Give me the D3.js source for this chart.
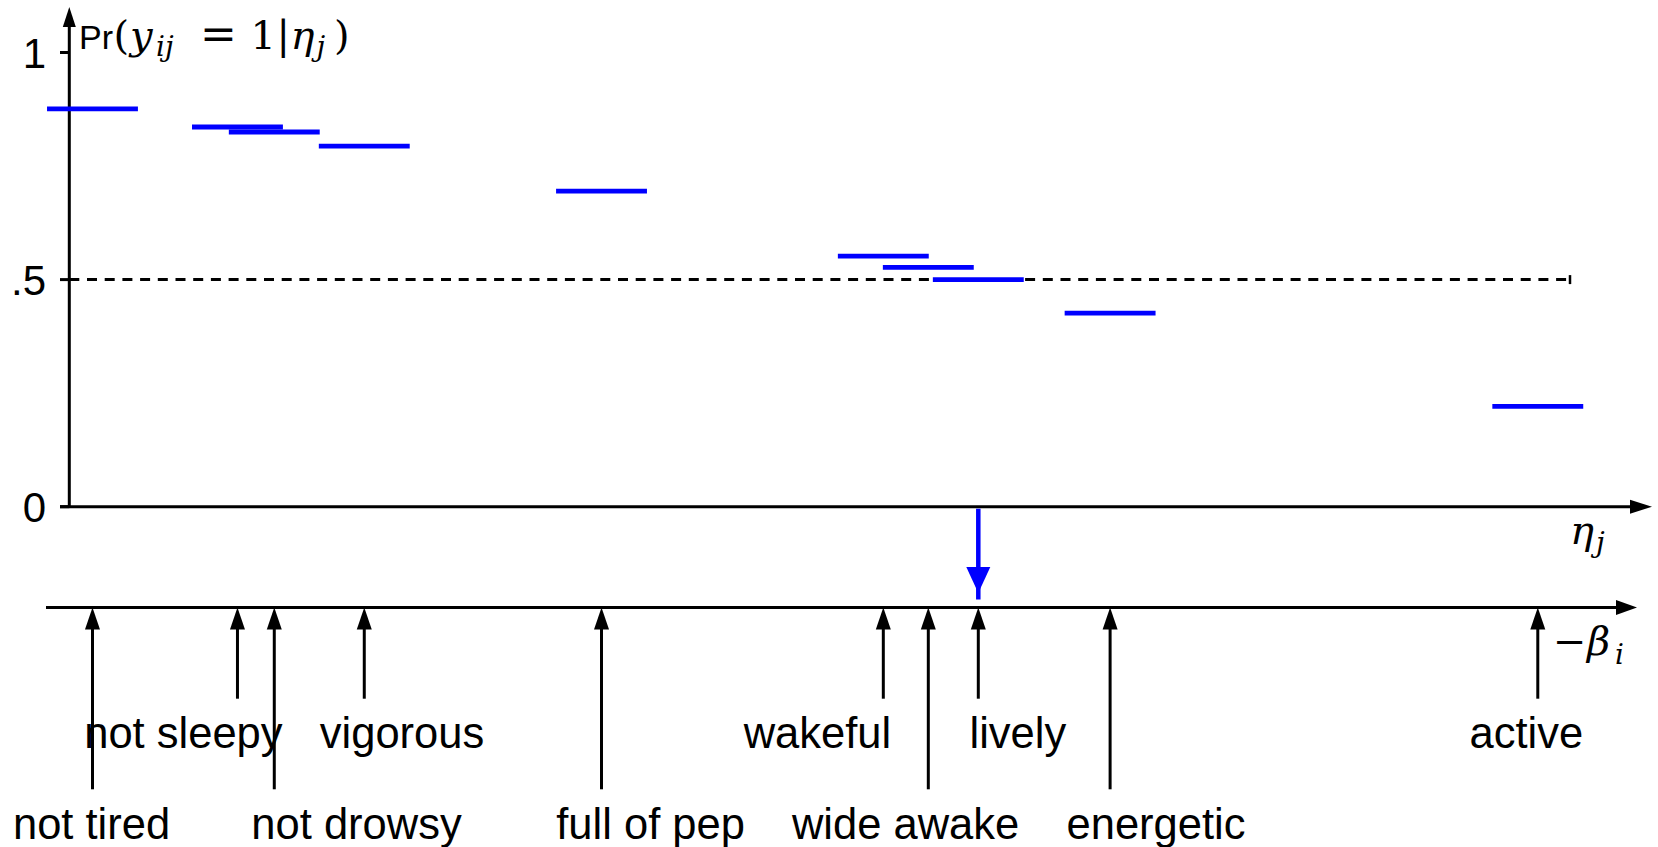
<!DOCTYPE html>
<html>
<head>
<meta charset="utf-8">
<script src="https://cdn.jsdelivr.net/npm/d3@7"></script>
<style>
  body { margin: 0; background: #fff; }
</style>
</head>
<body>
<div id="chart"></div>
<script>
// DATA
// items, their -beta_i location on the eta scale and Pr(y=1|eta_j) at eta_j
const items = ["not tired", "not sleepy", "not drowsy", "vigorous", "full of pep",
               "wakeful", "wide awake", "lively", "energetic", "active"];
const negBeta = [-1.949, -1.630, -1.549, -1.351, -0.829, -0.209, -0.110, 0.000, 0.290, 1.231];
const probs = [0.876, 0.836, 0.825, 0.794, 0.695, 0.5515, 0.527, 0.500, 0.426, 0.221];
// where each item's label sits (eta units) and on which row
const labelAt = [-1.951, -1.749, -1.368, -1.268, -0.721, -0.354, -0.160, 0.087, 0.391, 1.206];
const labelRow = [2, 1, 2, 1, 2, 1, 2, 1, 2, 1];
const etaJ = 0;
const yTicks = [0, 0.5, 1];
const yTickLabels = ["0", ".5", "1"];

// LAYOUT
const width = 1658, height = 847;
const blue = "#0000ff";
const sans = "'Liberation Sans', Arial, Helvetica, sans-serif";
const serif = "'DejaVu Serif', 'Liberation Serif', serif";

const x = d3.scaleLinear().domain([-2, 0]).range([69.3, 978.3]);
const y = d3.scaleLinear().domain([0, 1]).range([506.7, 52.5]);
const betaAxisY = 607.5;
const rowEnd = {1: 698.7, 2: 789.3};
const rowBase = {1: 748, 2: 839};

const svg = d3.select("#chart").append("svg")
  .attr("width", width)
  .attr("height", height);

svg.append("rect").attr("width", width).attr("height", height).attr("fill", "#fff");

// arrowhead helper: tip at (tx,ty), pointing along direction
function head(tx, ty, dir, len, half) {
  if (dir === "up") return `M${tx},${ty}L${tx - half},${ty + len}L${tx + half},${ty + len}Z`;
  if (dir === "down") return `M${tx},${ty}L${tx - half},${ty - len}L${tx + half},${ty - len}Z`;
  return `M${tx},${ty}L${tx - len},${ty - half}L${tx - len},${ty + half}Z`;
}

// Y AXIS
const yAxisX = x(-2);
svg.append("line")
  .attr("x1", yAxisX).attr("x2", yAxisX)
  .attr("y1", y(0)).attr("y2", 20)
  .attr("stroke", "#000").attr("stroke-width", 3);
svg.append("path").attr("d", head(yAxisX, 7, "up", 20, 6.5)).attr("fill", "#000");

yTicks.forEach((t, i) => {
  svg.append("line")
    .attr("x1", yAxisX - 9.3).attr("x2", yAxisX)
    .attr("y1", y(t)).attr("y2", y(t))
    .attr("stroke", "#000").attr("stroke-width", 3);
  svg.append("text")
    .attr("x", 46).attr("y", y(t) + 15)
    .attr("text-anchor", "end")
    .attr("font-family", sans).attr("font-size", 42)
    .text(yTickLabels[i]);
});

// X AXIS (eta_j)
svg.append("line")
  .attr("x1", yAxisX - 9.3).attr("x2", 1635)
  .attr("y1", y(0)).attr("y2", y(0))
  .attr("stroke", "#000").attr("stroke-width", 3);
svg.append("path").attr("d", head(1652, y(0), "right", 22, 7)).attr("fill", "#000");

// dashed .5 line with end bar
svg.append("line")
  .attr("x1", yAxisX).attr("x2", 1570)
  .attr("y1", y(0.5)).attr("y2", y(0.5))
  .attr("stroke", "#000").attr("stroke-width", 3)
  .attr("stroke-dasharray", "10,7.7");
svg.append("line")
  .attr("x1", 1570).attr("x2", 1570)
  .attr("y1", y(0.5) - 4.5).attr("y2", y(0.5) + 4.5)
  .attr("stroke", "#000").attr("stroke-width", 2.5);

// probability segments
svg.selectAll(".seg").data(items).enter().append("line")
  .attr("class", "seg")
  .attr("x1", (d, i) => x(negBeta[i] - 0.1))
  .attr("x2", (d, i) => x(negBeta[i] + 0.1))
  .attr("y1", (d, i) => y(probs[i]))
  .attr("y2", (d, i) => y(probs[i]))
  .attr("stroke", blue).attr("stroke-width", 4.8);

// blue arrow at eta_j
svg.append("line")
  .attr("x1", x(etaJ)).attr("x2", x(etaJ))
  .attr("y1", y(0) + 2).attr("y2", 599.5)
  .attr("stroke", blue).attr("stroke-width", 4.5);
svg.append("path").attr("d", head(x(etaJ), 593, "down", 26, 12)).attr("fill", blue);

// BETA AXIS
svg.append("line")
  .attr("x1", 46).attr("x2", 1620)
  .attr("y1", betaAxisY).attr("y2", betaAxisY)
  .attr("stroke", "#000").attr("stroke-width", 3);
svg.append("path").attr("d", head(1637, betaAxisY, "right", 21, 7.5)).attr("fill", "#000");

// item arrows and labels
items.forEach((name, i) => {
  const ax = x(negBeta[i]);
  svg.append("line")
    .attr("x1", ax).attr("x2", ax)
    .attr("y1", betaAxisY + 15).attr("y2", rowEnd[labelRow[i]])
    .attr("stroke", "#000").attr("stroke-width", 3);
  svg.append("path").attr("d", head(ax, betaAxisY, "up", 22, 7.5)).attr("fill", "#000");
  svg.append("text")
    .attr("x", x(labelAt[i])).attr("y", rowBase[labelRow[i]])
    .attr("text-anchor", "middle")
    .attr("font-family", sans).attr("font-size", 43.5)
    .text(name);
});

// AXIS TITLES
const title = svg.append("g");
title.append("text").attr("x", 79).attr("y", 49)
  .attr("font-family", sans).attr("font-size", 34).text("Pr");
const mathTitle = [
  {t: "(", x: 113.5, dy: 0, size: 40, it: false},
  {t: "y", x: 130, dy: 0, size: 40, it: true},
  {t: "ij", x: 156, dy: 7, size: 28, it: true},
  {t: "=", x: 200, dy: 0, size: 44, it: false},
  {t: "1", x: 250.5, dy: 0, size: 40, it: false},
  {t: "|", x: 276.5, dy: 0, size: 40, it: false},
  {t: "η", x: 290.5, dy: 0, size: 40, it: true},
  {t: "j", x: 316.5, dy: 7, size: 28, it: true},
  {t: ")", x: 334, dy: 0, size: 40, it: false}
];
mathTitle.forEach(m => {
  title.append("text")
    .attr("x", m.x).attr("y", 49 + m.dy)
    .attr("font-family", serif).attr("font-size", m.size)
    .attr("font-weight", 300)
    .attr("font-style", m.it ? "italic" : "normal")
    .text(m.t);
});

const etaLab = svg.append("g");
etaLab.append("text").attr("x", 1570).attr("y", 544)
  .attr("font-family", serif).attr("font-size", 40).attr("font-style", "italic").text("η");
etaLab.append("text").attr("x", 1596).attr("y", 552)
  .attr("font-family", serif).attr("font-size", 28).attr("font-style", "italic").text("j");

const betaLab = svg.append("g");
betaLab.append("text").attr("x", 1553).attr("y", 655)
  .attr("font-family", serif).attr("font-size", 40).text("−");
betaLab.append("text").attr("x", 1587).attr("y", 655)
  .attr("font-family", serif).attr("font-size", 40).attr("font-style", "italic").text("β");
betaLab.append("text").attr("x", 1615).attr("y", 664)
  .attr("font-family", serif).attr("font-size", 28).attr("font-style", "italic").text("i");
</script>
</body>
</html>
